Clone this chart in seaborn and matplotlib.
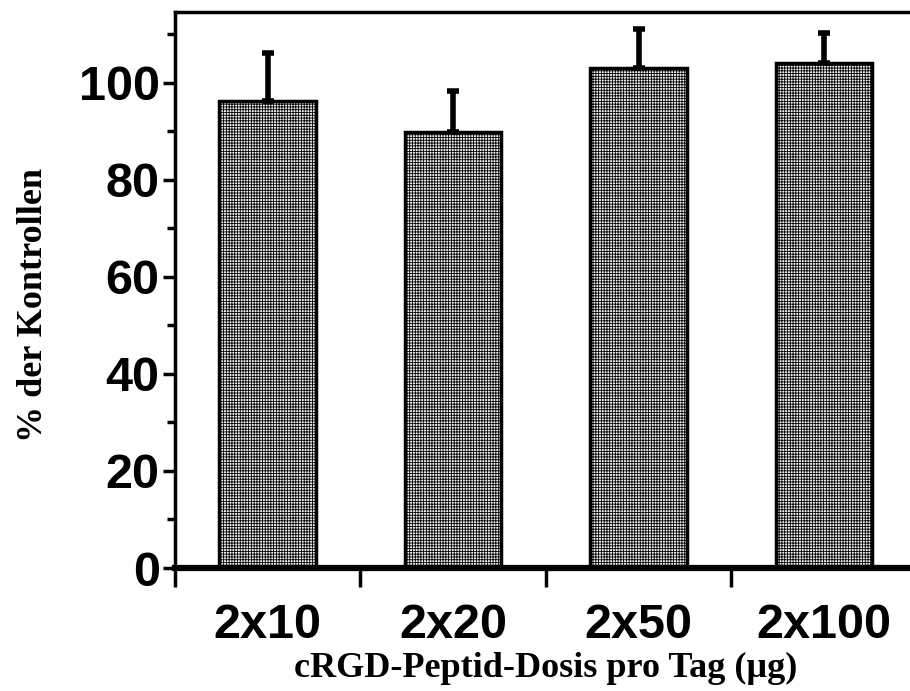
import matplotlib
matplotlib.use("Agg")
import matplotlib.pyplot as plt
import seaborn as sns
import numpy as np
from matplotlib.ticker import MultipleLocator

doses = ["2x10", "2x20", "2x50", "2x100"]
percent = [96.3, 89.9, 103.1, 104.1]
sem = [9.8, 8.4, 8.0, 6.2]
yticks = [0, 20, 40, 60, 80, 100]

sns.set_style("ticks")
plt.rcParams["hatch.color"] = "#8a8a8a"
plt.rcParams["hatch.linewidth"] = 0.6
plt.rcParams["axes.edgecolor"] = "black"
plt.rcParams["xtick.color"] = "black"
plt.rcParams["ytick.color"] = "black"
plt.rcParams["text.color"] = "black"
plt.rcParams["axes.labelcolor"] = "black"

fig = plt.figure(figsize=(9.1, 6.91), dpi=100)
ax = fig.add_axes([0.1923, 0.178, 0.815, 0.8046])

sns.barplot(x=doses, y=percent, ax=ax, width=0.52, color="#efefef",
            edgecolor="black", linewidth=2.5, errorbar=None, zorder=2)
for p in ax.patches:
    p.set_hatch("++++++")

xpos = np.arange(len(doses))
ax.errorbar(xpos, percent, yerr=[np.zeros(len(sem)), sem], fmt="none",
            ecolor="black", elinewidth=4, capsize=4, capthick=4, zorder=3)

ax.set_xlim(-0.5, 3.5)
ax.set_ylim(0, 114.6)
tick_font = dict(family="Liberation Sans", weight="bold")
ax.set_yticks(yticks)
ax.set_yticklabels([str(v) for v in yticks], fontdict=tick_font, fontsize=35)
ax.yaxis.set_minor_locator(MultipleLocator(10))
ax.set_xticks([-0.5, 0.5, 1.5, 2.5, 3.5])
ax.set_xticklabels([])
ax.set_xticks(xpos, minor=True)
ax.set_xticklabels(doses, minor=True, fontdict=tick_font, fontsize=35)
ax.tick_params(axis="x", which="major", length=14, width=2.5, direction="out")
ax.tick_params(axis="x", which="minor", length=0, pad=25)
ax.tick_params(axis="y", which="major", length=9, width=2.5, pad=2)
ax.tick_params(axis="y", which="minor", length=6, width=2.5)

for side in ["left", "top", "right"]:
    ax.spines[side].set_linewidth(2.5)
ax.spines["bottom"].set_linewidth(4.5)

ax.set_ylabel("% der Kontrollen", fontfamily="Liberation Serif",
              fontweight="bold", fontsize=26)
ax.yaxis.set_label_coords(-0.168, 0.473)
ax.set_xlabel("cRGD-Peptid-Dosis pro Tag (µg)", fontfamily="Liberation Serif",
              fontweight="bold", fontsize=26, labelpad=3)

fig.savefig("out.png", dpi=100)
